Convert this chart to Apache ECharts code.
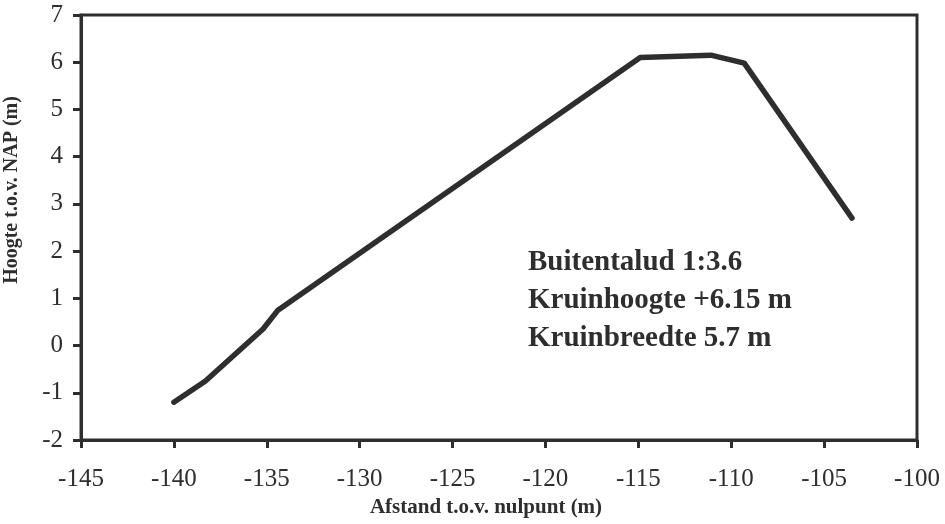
<!DOCTYPE html>
<html>
<head>
<meta charset="utf-8">
<script src="https://cdn.jsdelivr.net/npm/echarts@6/dist/echarts.min.js"></script>
<style>
  html, body { margin: 0; padding: 0; background: #fff; }
  #chart { width: 945px; height: 524px; }
</style>
</head>
<body>
<div id="chart"></div>
<script>
// dike cross-section profile
var distance = [-140, -138.3, -135.2, -134.4, -114.9, -111.1, -109.3, -103.5];
var height = [-1.2, -0.75, 0.35, 0.75, 6.1, 6.15, 5.98, 2.7];
var notes = ['Buitentalud 1:3.6', 'Kruinhoogte +6.15 m', 'Kruinbreedte 5.7 m'];

var ink = '#2e2e2e';
var serif = '"Liberation Serif", "DejaVu Serif", serif';

var myChart = echarts.init(document.getElementById('chart'));

var points = distance.map(function (d, i) { return [d, height[i]]; });

var option = {
    backgroundColor: '#fff',
    animation: false,
    grid: {
        left: 81, right: 28, top: 15, bottom: 84,
        show: true,
        borderColor: ink,
        borderWidth: 3,
        backgroundColor: 'transparent'
    },
    xAxis: {
        type: 'value',
        min: -145, max: -100, interval: 5,
        name: 'Afstand t.o.v. nulpunt (m)',
        nameLocation: 'middle',
        nameGap: 57,
        nameTextStyle: { fontFamily: serif, fontWeight: 'bold', fontSize: 21, color: ink, padding: [0, 26, 0, 0] },
        axisLine: { onZero: false, lineStyle: { color: ink, width: 3 } },
        axisTick: { inside: false, length: 8, lineStyle: { color: ink, width: 3 } },
        axisLabel: { margin: 27, fontFamily: serif, fontSize: 25, color: ink },
        splitLine: { show: false }
    },
    yAxis: {
        type: 'value',
        min: -2, max: 7, interval: 1,
        axisLine: { onZero: false, lineStyle: { color: ink, width: 3 } },
        axisTick: { inside: false, length: 8, lineStyle: { color: ink, width: 3 } },
        axisLabel: { margin: 18, fontFamily: serif, fontSize: 25, color: ink },
        splitLine: { show: false }
    },
    graphic: [
        {
            type: 'text',
            x: 12, y: 190,
            rotation: Math.PI / 2,
            style: {
                text: 'Hoogte t.o.v. NAP (m)',
                font: 'bold 20px ' + serif,
                fill: ink,
                align: 'center',
                verticalAlign: 'middle'
            }
        },
        {
            type: 'text',
            left: 528, top: 244,
            z: 100,
            style: {
                text: notes.join('\n'),
                font: 'bold 29px ' + serif,
                lineHeight: 38,
                fill: ink
            }
        }
    ],
    series: [
        {
            type: 'line',
            data: points,
            showSymbol: false,
            lineStyle: { color: ink, width: 5.5, cap: 'round', join: 'round' }
        }
    ]
};

option && myChart.setOption(option);
</script>
</body>
</html>
